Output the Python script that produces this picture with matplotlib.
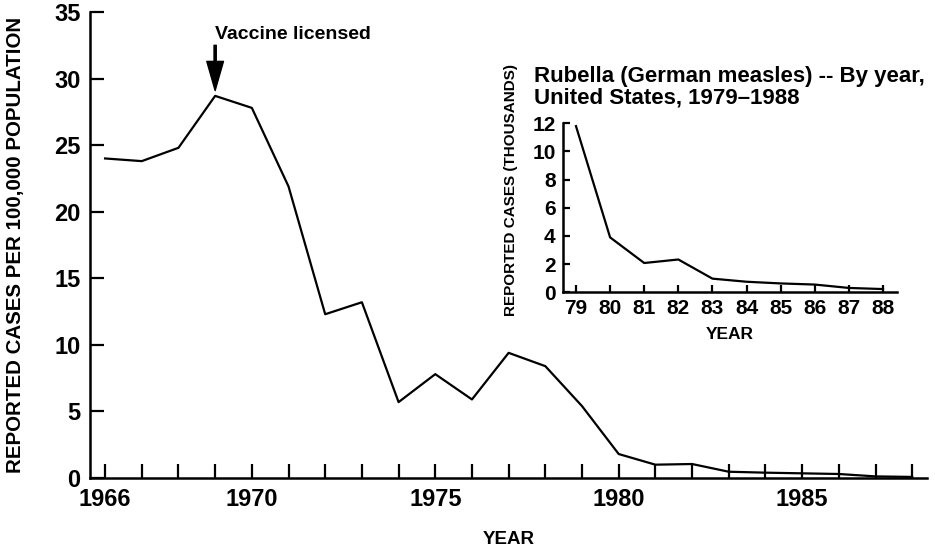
import matplotlib
matplotlib.use("Agg")
import matplotlib.pyplot as plt

plt.rcParams["font.family"] = ["Liberation Sans", "DejaVu Sans"]
plt.rcParams["font.weight"] = "bold"
plt.rcParams["axes.labelweight"] = "bold"

# Rubella incidence per 100,000 population, 1966-1988
years = list(range(1966, 1989))
rate = [24.0, 23.8, 24.8, 28.7, 27.8, 21.9, 12.3, 13.2, 5.7, 7.8, 5.9,
        9.4, 8.4, 5.4, 1.8, 1.0, 1.05, 0.47, 0.4, 0.35, 0.3, 0.12, 0.08]

# Reported cases (thousands), 1979-1988
inset_years = list(range(79, 89))
inset_cases = [11.8, 3.9, 2.08, 2.33, 0.97, 0.75, 0.63, 0.55, 0.31, 0.23]

main_yticks = [0, 5, 10, 15, 20, 25, 30, 35]
main_xticks = [1966, 1970, 1975, 1980, 1985]
inset_yticks = [0, 2, 4, 6, 8, 10, 12]


def style_axes(ax):
    for side in ("top", "right"):
        ax.spines[side].set_visible(False)
    for side in ("left", "bottom"):
        ax.spines[side].set_linewidth(1.8)
    ax.tick_params(which="both", direction="in", width=1.6, color="black")


fig = plt.figure(figsize=(9.35, 5.51), dpi=100)

ax = fig.add_axes([0.0963, 0.1325, 0.895, 0.8457])
ax.plot(years, rate, color="black", lw=1.6)
ax.set_xlim(1965.59, 1988.4)
ax.set_ylim(0, 35)
ax.set_yticks(main_yticks)
ax.set_xticks(years, minor=True)
ax.set_xticks(main_xticks)
ax.set_xticklabels([str(y) for y in main_xticks])
style_axes(ax)
ax.tick_params(axis="both", which="both", length=10, labelsize=17, pad=7)
ax.set_ylabel("REPORTED CASES PER 100,000 POPULATION", fontsize=14.8)
ax.yaxis.set_label_coords(-0.078, 0.5)
ax.set_xlabel("YEAR", fontsize=13.5)
ax.xaxis.set_label_coords(0.5, -0.114)

ax.annotate("", xy=(1969, 29.1), xytext=(1969, 32.5),
            arrowprops=dict(width=1.6, headwidth=12, headlength=21,
                            color="black", shrink=0))
ax.text(1968.99, 33.3, "Vaccine licensed", fontsize=14, va="center", ha="left")

# inset: rubella cases by year
ins = fig.add_axes([0.6018, 0.4695, 0.3572, 0.3067])
ins.plot(inset_years, inset_cases, color="black", lw=1.6)
ins.set_xlim(78.61, 88.4)
ins.set_ylim(0, 12)
ins.set_yticks(inset_yticks)
ins.set_xticks(inset_years)
style_axes(ins)
ins.tick_params(axis="both", length=5, labelsize=15, pad=5)
ins.set_ylabel("REPORTED CASES (THOUSANDS)", fontsize=11)
ins.yaxis.set_label_coords(-0.134, 0.605)
ins.set_xlabel("YEAR", fontsize=12.5)
ins.xaxis.set_label_coords(0.5, -0.205)
ins.text(-0.087, 1.088, "Rubella (German measles) -- By year,\nUnited States, 1979\u20131988",
         transform=ins.transAxes, fontsize=16,
         ha="left", va="bottom", linespacing=1.05)

fig.savefig("out.png", dpi=100)
